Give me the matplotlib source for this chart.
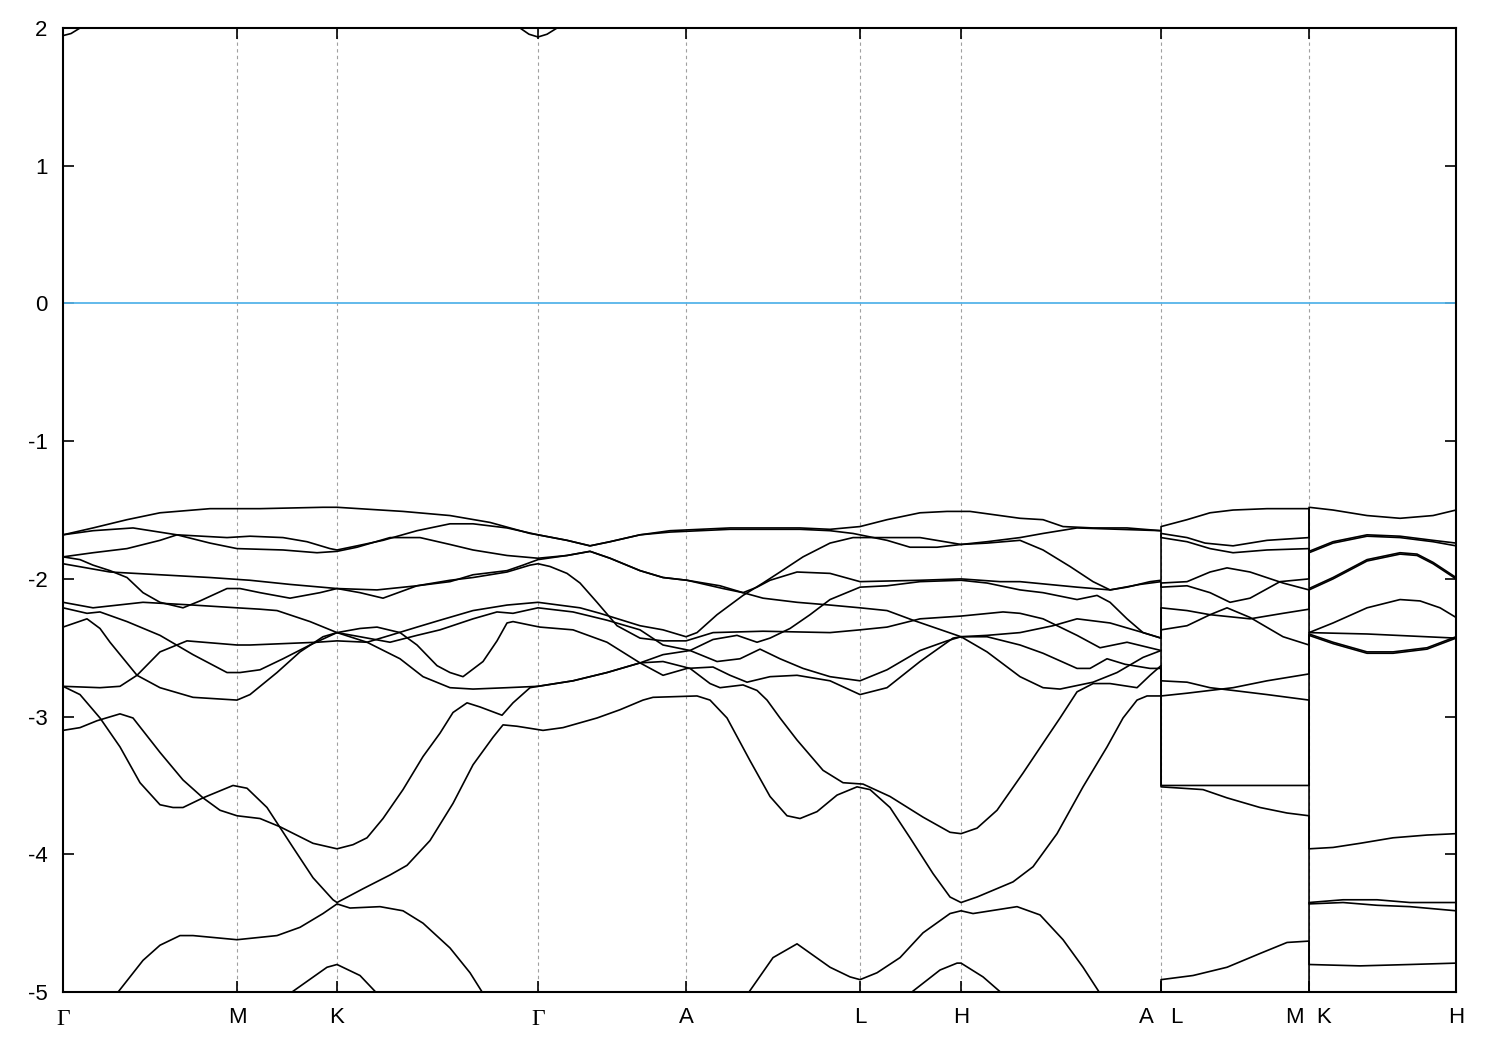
import matplotlib
matplotlib.use("Agg")
import matplotlib.pyplot as plt
from matplotlib.transforms import ScaledTranslation

plt.rcParams["font.family"] = ["Liberation Sans", "DejaVu Sans"]
plt.rcParams["axes.unicode_minus"] = False

# high-symmetry points along the k-path
kpt_pos = [0.0, 0.174, 0.274, 0.475, 0.623, 0.797, 0.898, 1.098, 1.246, 1.393]
kpt_labels = ["Γ", "M", "K", "Γ", "A", "L", "H", "A   L", "M  K", "H"]

E_MIN, E_MAX = -5, 2

# bands as (k, E) pairs, E in eV (A|L at k=1.098, M|K at k=1.246)
band_00 = [(0.000, 1.945), (0.008, 1.96), (0.017, 2.00), (0.040, 2.20), (0.440, 2.25),
           (0.457, 2.00), (0.466, 1.955), (0.475, 1.935), (0.484, 1.955), (0.494, 2.00),
           (0.510, 2.25), (1.393, 2.40)]

band_01 = [(0.000, -1.68), (0.030, -1.63), (0.064, -1.57), (0.097, -1.52), (0.147, -1.49),
           (0.197, -1.49), (0.260, -1.48), (0.274, -1.48), (0.340, -1.51), (0.387, -1.54),
           (0.427, -1.59), (0.467, -1.67), (0.475, -1.68), (0.504, -1.72), (0.527, -1.76),
           (0.547, -1.73), (0.577, -1.68), (0.607, -1.65), (0.667, -1.63), (0.737, -1.63),
           (0.767, -1.64), (0.797, -1.62), (0.824, -1.57), (0.857, -1.52), (0.884, -1.51),
           (0.907, -1.51), (0.957, -1.56), (0.980, -1.57), (1.000, -1.62), (1.030, -1.63),
           (1.064, -1.63), (1.098, -1.65),
           (1.098, -1.62), (1.124, -1.57), (1.147, -1.52), (1.170, -1.50), (1.204, -1.49),
           (1.246, -1.49),
           (1.246, -1.80), (1.270, -1.73), (1.304, -1.68), (1.337, -1.69), (1.370, -1.72),
           (1.393, -1.74)]

band_02 = [(0.000, -1.84), (0.030, -1.81), (0.064, -1.78), (0.097, -1.72), (0.114, -1.68),
           (0.164, -1.70), (0.187, -1.69), (0.220, -1.70), (0.244, -1.73), (0.267, -1.78),
           (0.274, -1.79), (0.294, -1.76), (0.320, -1.72), (0.354, -1.65), (0.387, -1.60),
           (0.410, -1.60), (0.444, -1.63), (0.475, -1.68), (0.504, -1.72), (0.527, -1.76),
           (0.547, -1.73), (0.577, -1.68), (0.607, -1.66), (0.667, -1.64), (0.737, -1.64),
           (0.767, -1.65), (0.790, -1.67), (0.824, -1.72), (0.847, -1.77), (0.874, -1.77),
           (0.898, -1.75), (0.924, -1.73), (0.957, -1.70), (0.980, -1.67), (1.014, -1.63),
           (1.098, -1.65),
           (1.098, -1.70), (1.124, -1.73), (1.147, -1.78), (1.170, -1.81), (1.204, -1.79),
           (1.246, -1.78),
           (1.246, -2.07), (1.270, -1.99), (1.304, -1.86), (1.337, -1.81), (1.354, -1.82),
           (1.370, -1.88), (1.393, -1.99)]

band_03 = [(0.000, -2.78), (0.037, -2.79), (0.057, -2.78), (0.074, -2.70), (0.097, -2.53),
           (0.124, -2.45), (0.174, -2.48), (0.187, -2.48), (0.254, -2.46), (0.274, -2.45),
           (0.304, -2.46), (0.327, -2.41), (0.354, -2.35), (0.377, -2.30), (0.410, -2.23),
           (0.444, -2.19), (0.475, -2.17), (0.517, -2.21), (0.537, -2.25), (0.577, -2.34),
           (0.600, -2.37), (0.623, -2.42), (0.634, -2.39), (0.654, -2.26), (0.680, -2.12),
           (0.700, -2.03), (0.717, -1.95), (0.740, -1.84), (0.767, -1.74), (0.790, -1.70),
           (0.824, -1.70), (0.857, -1.70), (0.890, -1.74), (0.898, -1.75), (0.924, -1.74),
           (0.957, -1.72), (0.980, -1.79), (1.007, -1.91), (1.030, -2.02), (1.047, -2.08),
           (1.064, -2.06), (1.087, -2.02), (1.098, -2.01),
           (1.098, -1.67), (1.124, -1.70), (1.142, -1.74), (1.170, -1.76), (1.204, -1.72),
           (1.246, -1.70),
           (1.246, -1.48), (1.270, -1.50), (1.304, -1.54), (1.337, -1.56), (1.370, -1.54),
           (1.393, -1.50)]

band_04 = [(0.000, -1.84), (0.017, -1.86), (0.030, -1.90), (0.047, -1.94), (0.064, -1.99),
           (0.080, -2.10), (0.097, -2.17), (0.120, -2.21), (0.137, -2.16), (0.164, -2.07),
           (0.177, -2.07), (0.197, -2.10), (0.227, -2.14), (0.257, -2.10), (0.274, -2.07),
           (0.297, -2.10), (0.320, -2.14), (0.354, -2.05), (0.387, -2.02), (0.410, -1.97),
           (0.444, -1.94), (0.460, -1.90), (0.475, -1.86), (0.504, -1.83), (0.527, -1.80),
           (0.547, -1.85), (0.577, -1.94), (0.600, -1.99), (0.624, -2.01), (0.657, -2.05),
           (0.680, -2.10), (0.694, -2.06), (0.707, -2.01), (0.734, -1.95), (0.767, -1.96),
           (0.797, -2.02), (0.857, -2.01), (0.898, -2.00), (0.937, -2.02), (0.957, -2.02),
           (1.014, -2.06), (1.047, -2.08), (1.077, -2.04), (1.098, -2.02),
           (1.098, -2.06), (1.124, -2.05), (1.147, -2.10), (1.167, -2.17), (1.187, -2.14),
           (1.217, -2.02), (1.246, -2.00),
           (1.246, -1.81), (1.270, -1.74), (1.304, -1.69), (1.337, -1.70), (1.370, -1.73),
           (1.393, -1.76)]

band_05 = [(0.000, -2.35), (0.024, -2.29), (0.037, -2.36), (0.047, -2.46), (0.074, -2.70),
           (0.097, -2.79), (0.130, -2.86), (0.174, -2.88), (0.187, -2.84), (0.214, -2.68),
           (0.237, -2.53), (0.260, -2.42), (0.274, -2.39), (0.297, -2.42), (0.327, -2.46),
           (0.354, -2.41), (0.377, -2.37), (0.410, -2.29), (0.434, -2.24), (0.450, -2.25),
           (0.475, -2.21), (0.510, -2.24), (0.544, -2.30), (0.577, -2.37), (0.600, -2.48),
           (0.627, -2.52), (0.650, -2.44), (0.674, -2.41), (0.694, -2.46), (0.707, -2.43),
           (0.727, -2.36), (0.747, -2.26), (0.767, -2.15), (0.797, -2.06), (0.824, -2.05),
           (0.857, -2.02), (0.898, -2.01), (0.924, -2.03), (0.957, -2.08), (0.980, -2.10),
           (1.014, -2.15), (1.034, -2.12), (1.047, -2.17), (1.064, -2.29), (1.080, -2.39),
           (1.098, -2.43),
           (1.098, -2.03), (1.124, -2.02), (1.147, -1.95), (1.164, -1.92), (1.187, -1.95),
           (1.220, -2.03), (1.246, -2.08),
           (1.246, -2.39), (1.270, -2.32), (1.304, -2.21), (1.337, -2.15), (1.357, -2.16),
           (1.377, -2.21), (1.393, -2.28)]

band_06 = [(0.000, -2.17), (0.030, -2.21), (0.080, -2.17), (0.130, -2.19), (0.174, -2.21),
           (0.197, -2.22), (0.214, -2.23), (0.247, -2.31), (0.274, -2.39), (0.304, -2.46),
           (0.337, -2.58), (0.360, -2.71), (0.387, -2.79), (0.410, -2.80), (0.444, -2.79),
           (0.475, -2.78), (0.510, -2.74), (0.544, -2.68), (0.577, -2.61), (0.600, -2.55),
           (0.627, -2.52), (0.654, -2.60), (0.677, -2.58), (0.697, -2.51), (0.717, -2.58),
           (0.740, -2.65), (0.767, -2.71), (0.797, -2.74), (0.824, -2.66), (0.857, -2.52),
           (0.884, -2.45), (0.898, -2.42), (0.924, -2.41), (0.957, -2.39), (0.990, -2.34),
           (1.014, -2.29), (1.047, -2.32), (1.080, -2.39), (1.098, -2.43),
           (1.098, -2.21), (1.124, -2.23), (1.147, -2.26), (1.187, -2.29), (1.220, -2.25),
           (1.246, -2.22),
           (1.246, -2.08), (1.270, -2.00), (1.304, -1.87), (1.337, -1.82), (1.354, -1.83),
           (1.370, -1.89), (1.393, -2.00)]

band_07 = [(0.000, -1.68), (0.030, -1.65), (0.070, -1.63), (0.114, -1.68), (0.147, -1.74),
           (0.174, -1.78), (0.220, -1.79), (0.254, -1.81), (0.274, -1.80), (0.294, -1.77),
           (0.327, -1.70), (0.357, -1.70), (0.387, -1.75), (0.410, -1.79), (0.444, -1.83),
           (0.475, -1.85), (0.504, -1.83), (0.527, -1.80), (0.547, -1.85), (0.577, -1.94),
           (0.600, -1.99), (0.624, -2.01), (0.660, -2.07), (0.680, -2.10), (0.700, -2.14),
           (0.734, -2.17), (0.767, -2.19), (0.797, -2.21), (0.824, -2.23), (0.850, -2.30),
           (0.874, -2.36), (0.898, -2.42), (0.924, -2.53), (0.957, -2.71), (0.980, -2.79),
           (0.997, -2.80), (1.030, -2.75), (1.054, -2.68), (1.080, -2.57), (1.098, -2.52),
           (1.098, -2.37), (1.124, -2.34), (1.147, -2.26), (1.164, -2.21), (1.187, -2.28),
           (1.220, -2.42), (1.246, -2.48),
           (1.246, -2.40), (1.270, -2.46), (1.304, -2.53), (1.330, -2.53), (1.364, -2.50),
           (1.393, -2.42)]

band_08 = [(0.000, -1.89), (0.047, -1.95), (0.097, -1.97), (0.147, -1.99), (0.187, -2.01),
           (0.227, -2.04), (0.274, -2.07), (0.314, -2.08), (0.354, -2.05), (0.387, -2.01),
           (0.410, -1.99), (0.444, -1.95), (0.467, -1.90), (0.475, -1.89), (0.487, -1.91),
           (0.504, -1.96), (0.517, -2.03), (0.534, -2.17), (0.554, -2.34), (0.577, -2.43),
           (0.600, -2.45), (0.623, -2.45), (0.650, -2.39), (0.700, -2.38), (0.767, -2.39),
           (0.797, -2.37), (0.824, -2.35), (0.857, -2.29), (0.898, -2.27), (0.940, -2.24),
           (0.957, -2.25), (0.980, -2.29), (1.014, -2.41), (1.037, -2.50), (1.064, -2.46),
           (1.098, -2.52),
           (1.098, -2.74), (1.124, -2.75), (1.147, -2.79), (1.170, -2.81), (1.204, -2.84),
           (1.246, -2.88),
           (1.246, -3.96), (1.270, -3.95), (1.297, -3.92), (1.330, -3.88), (1.364, -3.86),
           (1.393, -3.85)]

band_09 = [(0.000, -3.10), (0.017, -3.08), (0.034, -3.03), (0.057, -2.98), (0.070, -3.01),
           (0.097, -3.26), (0.120, -3.46), (0.140, -3.59), (0.157, -3.68), (0.174, -3.72),
           (0.197, -3.74), (0.217, -3.80), (0.250, -3.92), (0.274, -3.96), (0.290, -3.93),
           (0.304, -3.88), (0.320, -3.74), (0.340, -3.53), (0.360, -3.29), (0.377, -3.12),
           (0.390, -2.97), (0.404, -2.90), (0.417, -2.93), (0.439, -2.99), (0.450, -2.90),
           (0.467, -2.79), (0.475, -2.78), (0.510, -2.74), (0.544, -2.68), (0.577, -2.61),
           (0.600, -2.60), (0.627, -2.65), (0.647, -2.76), (0.657, -2.79), (0.680, -2.77),
           (0.694, -2.81), (0.704, -2.88), (0.717, -3.01), (0.734, -3.17), (0.760, -3.39),
           (0.780, -3.48), (0.800, -3.49), (0.827, -3.58), (0.860, -3.73), (0.887, -3.84),
           (0.898, -3.85), (0.914, -3.81), (0.934, -3.68), (0.960, -3.41), (0.984, -3.15),
           (0.997, -3.01), (1.014, -2.82), (1.030, -2.76), (1.047, -2.76), (1.074, -2.79),
           (1.087, -2.70), (1.098, -2.63),
           (1.098, -2.85), (1.124, -2.83), (1.147, -2.81), (1.170, -2.79), (1.204, -2.74),
           (1.246, -2.69),
           (1.246, -2.39), (1.304, -2.40), (1.393, -2.43)]

band_10 = [(0.000, -2.21), (0.024, -2.25), (0.037, -2.24), (0.064, -2.31), (0.097, -2.41),
           (0.130, -2.55), (0.164, -2.68), (0.177, -2.68), (0.197, -2.66), (0.220, -2.58),
           (0.247, -2.48), (0.274, -2.39), (0.297, -2.36), (0.314, -2.35), (0.337, -2.39),
           (0.354, -2.48), (0.374, -2.63), (0.387, -2.68), (0.400, -2.71), (0.420, -2.60),
           (0.434, -2.45), (0.444, -2.32), (0.450, -2.31), (0.470, -2.34), (0.477, -2.35),
           (0.510, -2.37), (0.544, -2.46), (0.577, -2.61), (0.600, -2.70), (0.624, -2.65),
           (0.650, -2.64), (0.667, -2.70), (0.684, -2.75), (0.707, -2.71), (0.734, -2.70),
           (0.767, -2.74), (0.797, -2.84), (0.824, -2.79), (0.857, -2.60), (0.890, -2.43),
           (0.898, -2.42), (0.924, -2.42), (0.957, -2.48), (0.980, -2.54), (1.014, -2.65),
           (1.027, -2.65), (1.044, -2.58), (1.062, -2.62), (1.087, -2.65), (1.098, -2.65),
           (1.098, -3.50), (1.246, -3.50),
           (1.246, -2.41), (1.270, -2.47), (1.304, -2.54), (1.330, -2.54), (1.364, -2.51),
           (1.393, -2.43)]

band_11 = [(0.000, -2.78), (0.017, -2.84), (0.037, -3.01), (0.057, -3.22), (0.077, -3.48),
           (0.097, -3.64), (0.110, -3.66), (0.120, -3.66), (0.140, -3.59), (0.170, -3.50),
           (0.184, -3.52), (0.204, -3.66), (0.230, -3.95), (0.250, -4.17), (0.270, -4.33),
           (0.274, -4.35), (0.300, -4.25), (0.327, -4.15), (0.344, -4.08), (0.367, -3.90),
           (0.390, -3.63), (0.410, -3.35), (0.430, -3.15), (0.440, -3.06), (0.454, -3.07),
           (0.480, -3.10), (0.500, -3.08), (0.534, -3.01), (0.557, -2.95), (0.580, -2.88),
           (0.590, -2.86), (0.634, -2.85), (0.647, -2.88), (0.664, -3.01), (0.687, -3.32),
           (0.707, -3.58), (0.724, -3.72), (0.737, -3.74), (0.754, -3.69), (0.774, -3.57),
           (0.794, -3.51), (0.807, -3.53), (0.827, -3.66), (0.847, -3.88), (0.870, -4.14),
           (0.887, -4.31), (0.898, -4.35), (0.914, -4.31), (0.950, -4.20), (0.970, -4.09),
           (0.994, -3.85), (1.020, -3.51), (1.044, -3.22), (1.060, -3.01), (1.074, -2.88),
           (1.084, -2.85), (1.098, -2.85),
           (1.098, -3.51), (1.140, -3.53), (1.164, -3.59), (1.197, -3.66), (1.224, -3.70),
           (1.246, -3.72),
           (1.246, -4.36), (1.280, -4.35), (1.314, -4.37), (1.347, -4.38), (1.393, -4.41)]

band_12 = [(0.000, -5.40), (0.054, -5.01), (0.080, -4.77), (0.097, -4.66), (0.117, -4.59),
           (0.130, -4.59), (0.174, -4.62), (0.214, -4.59), (0.237, -4.53), (0.260, -4.43),
           (0.274, -4.36), (0.287, -4.39), (0.317, -4.38), (0.340, -4.41), (0.360, -4.50),
           (0.387, -4.68), (0.407, -4.86), (0.420, -5.01), (0.475, -5.40), (0.623, -5.45),
           (0.665, -5.30), (0.685, -5.01), (0.710, -4.75), (0.734, -4.65), (0.767, -4.82),
           (0.787, -4.89), (0.797, -4.91), (0.814, -4.86), (0.837, -4.75), (0.860, -4.57),
           (0.887, -4.43), (0.898, -4.41), (0.910, -4.43), (0.954, -4.38), (0.977, -4.44),
           (1.000, -4.62), (1.020, -4.82), (1.037, -5.01), (1.070, -5.30), (1.098, -5.45),
           (1.098, -4.91), (1.130, -4.88), (1.164, -4.82), (1.197, -4.72), (1.224, -4.64),
           (1.246, -4.63),
           (1.246, -4.80), (1.297, -4.81), (1.347, -4.80), (1.393, -4.79)]

band_13 = [(0.000, -5.70), (0.190, -5.30), (0.227, -5.01), (0.264, -4.82), (0.274, -4.80),
           (0.297, -4.88), (0.314, -5.01), (0.360, -5.40), (0.623, -5.70), (0.800, -5.40),
           (0.847, -5.01), (0.877, -4.84), (0.894, -4.79), (0.898, -4.79), (0.920, -4.89),
           (0.939, -5.01), (0.990, -5.40), (1.098, -5.65),
           (1.098, -5.60), (1.246, -5.55),
           (1.246, -4.35), (1.280, -4.33), (1.314, -4.33), (1.347, -4.35), (1.393, -4.35)]

bands = [band_00, band_01, band_02, band_03, band_04, band_05, band_06, band_07,
         band_08, band_09, band_10, band_11, band_12, band_13]

fig = plt.figure(figsize=(15, 10.5), dpi=100)
ax = fig.add_axes([0.042, 0.0552, 0.9287, 0.9181])

for kx in kpt_pos[1:-1]:
    ax.axvline(kx, color="#a0a0a0", lw=0.8, ls=(0, (3, 3)), zorder=1)
ax.axhline(0, color="#56b4e9", lw=1.3, zorder=2)

for band in bands:
    k, e = zip(*band)
    ax.plot(k, e, color="black", lw=1.2, zorder=3)

ax.set_xlim(kpt_pos[0], kpt_pos[-1])
ax.set_ylim(E_MIN, E_MAX)
ax.set_xticks(kpt_pos)
ax.set_xticklabels(kpt_labels)
ax.set_yticks(range(E_MIN, E_MAX + 1))
ax.tick_params(direction="in", length=8, width=1.2, labelsize=16, pad=11,
               top=True, right=True)
# Gamma is set in a serif face, nudged down to sit on the same baseline
gamma_shift = ScaledTranslation(0, -1.5 / 72, fig.dpi_scale_trans)
for lab in ax.get_xticklabels():
    if lab.get_text() == "Γ":
        lab.set_fontfamily("Liberation Serif")
        lab.set_fontsize(17)
        lab.set_transform(lab.get_transform() + gamma_shift)
for sp in ax.spines.values():
    sp.set_linewidth(1.5)

fig.savefig("out.png", dpi=100)
